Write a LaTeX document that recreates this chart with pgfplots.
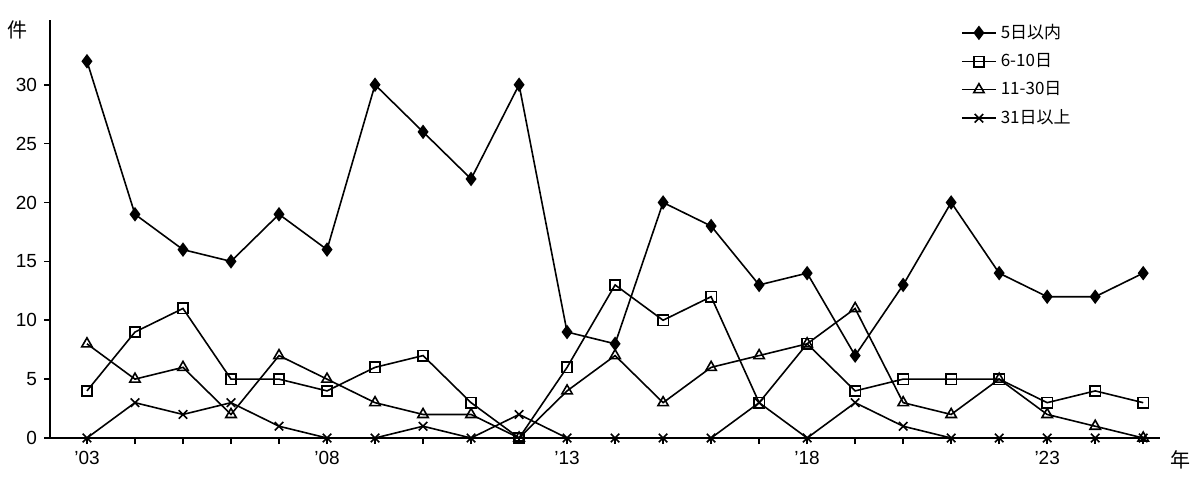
\documentclass[border=0pt]{standalone}
\usepackage{pgfplots}
\pgfplotsset{compat=1.18}
\usepackage{fontspec}
\setmainfont{Liberation Sans}
\newfontfamily\cjk{Noto Sans CJK JP}
\begin{document}
\begin{tikzpicture}
\path (0,0) rectangle (601pt,244pt);
\begin{axis}[at={(25pt,25pt)},anchor=south west,scale only axis,width=555pt,height=209pt,
 xmin=2002.23,xmax=2025.35,ymin=0,ymax=35.5,
 axis x line=bottom, axis y line=left, axis line style={-,thick},
 xtick={2003,2008,2013,2018,2023}, xticklabels={'03,'08,'13,'18,'23},
 minor xtick={2003,...,2025},
 ytick={0,5,...,30}, tick style={black,thick}, tick align=outside,
 major tick length=3pt, minor tick length=3pt,
 /pgf/number format/assume math mode=true,
 tick label style={font=\fontsize{9.5}{11}\selectfont},
 legend style={draw=none,fill=none,at={(0.815,1.01)},anchor=north west,font=\fontsize{8.5}{11}\cjk,row sep=2pt},
 legend cell align=left,
 every axis plot/.append style={black,thick,mark size=2.6pt},
 clip=false]
\addplot[mark=diamond*,mark options={fill=black},mark size=3pt] coordinates {(2003,32)(2004,19)(2005,16)(2006,15)(2007,19)(2008,16)(2009,30)(2010,26)(2011,22)(2012,30)(2013,9)(2014,8)(2015,20)(2016,18)(2017,13)(2018,14)(2019,7)(2020,13)(2021,20)(2022,14)(2023,12)(2024,12)(2025,14)};
\addlegendentry{5日以内}
\addplot[mark=square,mark options={fill=white}] coordinates {(2003,4)(2004,9)(2005,11)(2006,5)(2007,5)(2008,4)(2009,6)(2010,7)(2011,3)(2012,0)(2013,6)(2014,13)(2015,10)(2016,12)(2017,3)(2018,8)(2019,4)(2020,5)(2021,5)(2022,5)(2023,3)(2024,4)(2025,3)};
\addlegendentry{6-10日}
\addplot[mark=triangle,mark options={fill=white},mark size=3pt] coordinates {(2003,8)(2004,5)(2005,6)(2006,2)(2007,7)(2008,5)(2009,3)(2010,2)(2011,2)(2012,0)(2013,4)(2014,7)(2015,3)(2016,6)(2017,7)(2018,8)(2019,11)(2020,3)(2021,2)(2022,5)(2023,2)(2024,1)(2025,0)};
\addlegendentry{11-30日}
\addplot[mark=x,mark size=3pt] coordinates {(2003,0)(2004,3)(2005,2)(2006,3)(2007,1)(2008,0)(2009,0)(2010,1)(2011,0)(2012,2)(2013,0)(2014,0)(2015,0)(2016,0)(2017,3)(2018,0)(2019,3)(2020,1)(2021,0)(2022,0)(2023,0)(2024,0)(2025,0)};
\addlegendentry{31日以上}
\end{axis}
\node[font=\fontsize{10}{11}\cjk] at (9pt,229pt) {件};
\node[font=\fontsize{10}{11}\cjk] at (590pt,14pt) {年};
\end{tikzpicture}
\end{document}
